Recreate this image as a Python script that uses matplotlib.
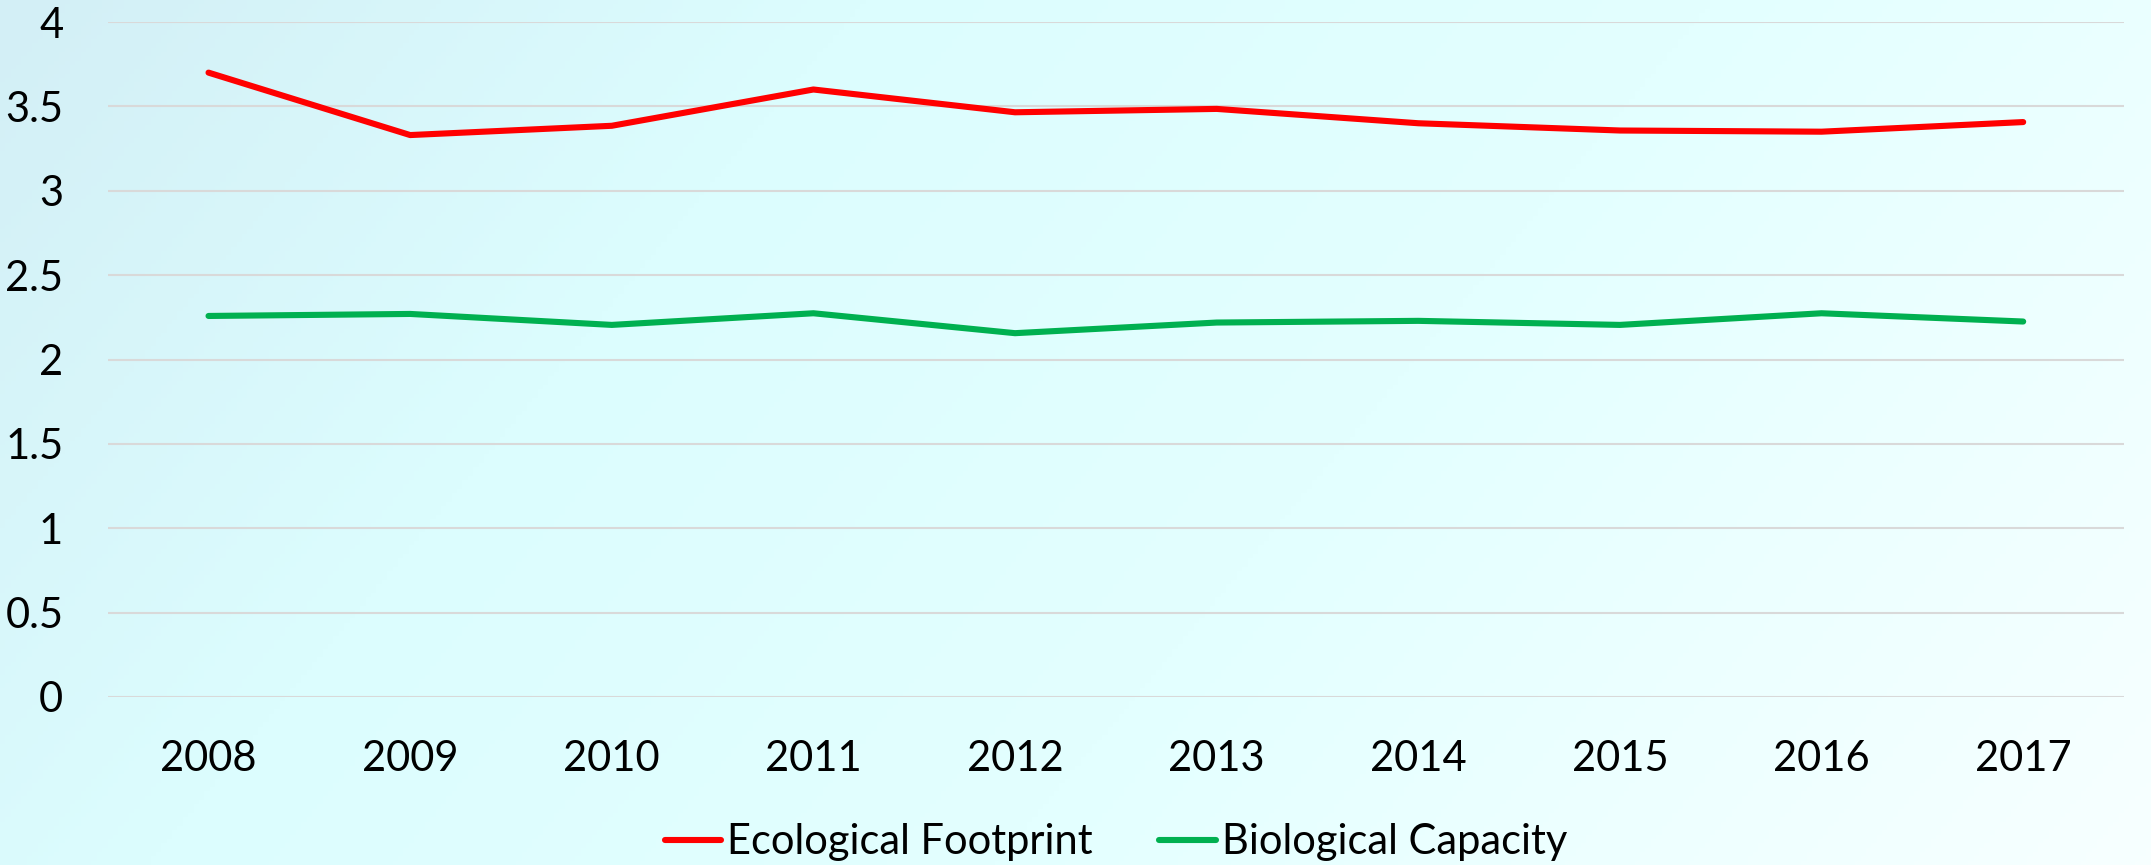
import numpy as np
import matplotlib.pyplot as plt
from matplotlib.colors import LinearSegmentedColormap

# values
years = ['2008', '2009', '2010', '2011', '2012', '2013', '2014', '2015', '2016', '2017']
ecological_footprint = [3.70, 3.33, 3.385, 3.60, 3.465, 3.485, 3.40, 3.357, 3.35, 3.407]
biological_capacity = [2.258, 2.27, 2.205, 2.274, 2.156, 2.219, 2.229, 2.205, 2.274, 2.225]
y_ticks = [0, 0.5, 1, 1.5, 2, 2.5, 3, 3.5, 4]

plt.rcParams['font.family'] = ['Lato', 'DejaVu Sans']

W, H = 2151, 865
fig = plt.figure(figsize=(W / 100, H / 100), dpi=100)

# background gradient (light blue top-left -> cyan -> almost white)
bg = fig.add_axes([0, 0, 1, 1], zorder=0)
gx, gy = np.meshgrid(np.linspace(0, 1, 400), np.linspace(0, 1, 200))
t = np.clip(0.75 * gx + 0.25 * (1 - gy), 0, 1)
cmap = LinearSegmentedColormap.from_list('bg', [(0.0, '#d3eff6'), (0.3, '#dcfdfe'),
                                                 (0.6, '#e3ffff'), (1.0, '#f7ffff')])
bg.imshow(t, cmap=cmap, aspect='auto', origin='lower', extent=[0, 1, 0, 1])
bg.axis('off')

ax = fig.add_axes([107.7 / W, 1 - 697 / H, (2124 - 107.7) / W, (697 - 22) / H], zorder=1)
ax.patch.set_alpha(0)
x = np.arange(len(years))
ax.plot(x, ecological_footprint, color='#ff0000', lw=4.4, solid_capstyle='round',
        label='Ecological Footprint', zorder=3)
ax.plot(x, biological_capacity, color='#00b050', lw=4.4, solid_capstyle='round',
        label='Biological Capacity', zorder=3)

ax.set_xlim(-0.5, len(years) - 0.5)
ax.set_ylim(0, 4)
ax.set_yticks(y_ticks)
ax.set_yticklabels([f'{v:g}' for v in y_ticks])
ax.set_xticks(x)
ax.set_xticklabels(years)
ax.grid(axis='y', color='#d9d9d9', lw=1.5, zorder=1)
ax.tick_params(axis='both', length=0, labelsize=30, colors='black')
ax.tick_params(axis='y', pad=32)
ax.tick_params(axis='x', pad=31)
for s in ax.spines.values():
    s.set_visible(False)

leg = ax.legend(loc='center', bbox_to_anchor=(0.5, -0.215), ncol=2, frameon=False,
                fontsize=30, handlelength=1.35, handletextpad=0.15, columnspacing=1.6)

fig.savefig('out.png', dpi=100)
